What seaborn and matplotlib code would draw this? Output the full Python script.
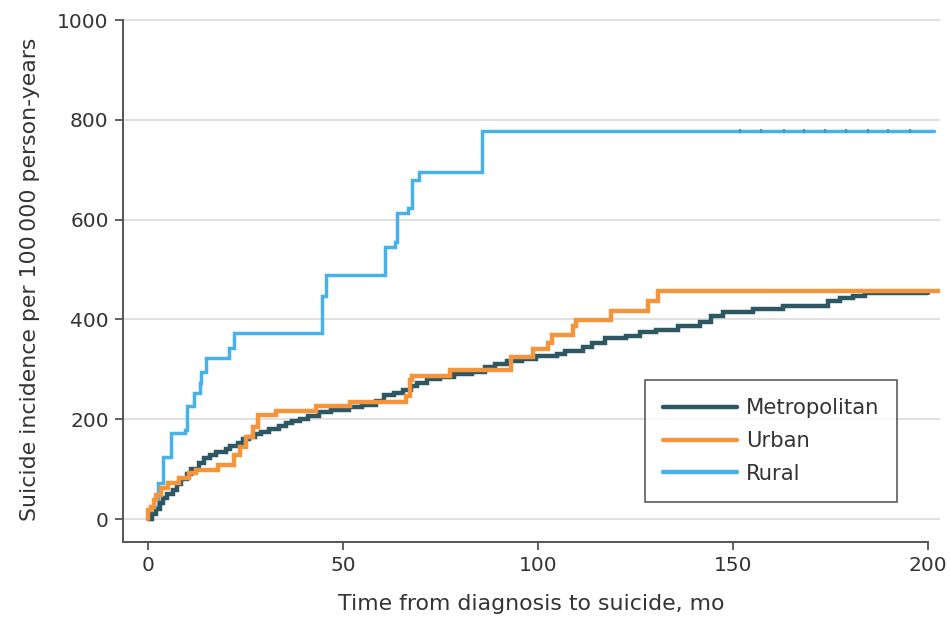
import numpy as np
import pandas as pd
import matplotlib
matplotlib.use("Agg")
import matplotlib.pyplot as plt
from matplotlib.lines import Line2D
import seaborn as sns

# ---- data ----
categories = ["Metropolitan", "Urban", "Rural"]

metro_t = [0, 1.0, 2.0, 3.0, 4.0, 5.0, 6.5, 7.5, 8.5, 10.0, 11.0, 13.0, 14.5, 16.0, 17.5,
           20.0, 21.0, 23.0, 24.5, 26.0, 27.5, 29.0, 31.0, 33.5, 35.5, 37.0, 39.0, 41.0,
           44.0, 47.0, 51.5, 55.0, 58.5, 60.5, 63.0, 65.5, 67.5, 69.0, 71.5, 75.0, 78.5,
           83.0, 86.5, 89.0, 92.0, 96.0, 99.5, 105.0, 107.0, 111.5, 113.8, 117.2, 122.7,
           126.2, 130.4, 136.0, 141.5, 144.5, 147.5, 155.2, 162.9, 174.4, 177.4, 180.9,
           183.8, 200.0]
metro_v = [0, 10, 20, 32, 42, 50, 58, 70, 80, 90, 100, 112, 122, 128, 135,
           140, 146, 152, 160, 165, 170, 175, 180, 186, 192, 196, 200, 206,
           214, 218, 224, 228, 236, 248, 253, 258, 266, 273, 280, 284, 290,
           295, 305, 310, 316, 320, 326, 330, 336, 345, 353, 362, 367,
           374, 379, 387, 394, 406, 414, 420, 426, 436, 442, 447,
           453, 453]

urban_t = [0, 0.1, 0.8, 1.5, 2.2, 3.4, 5.1, 8.1, 10.6, 12.3, 17.9, 22.2, 23.5, 25.2,
           26.9, 28.2, 32.9, 43.1, 51.8, 66.3, 67.2, 67.8, 77.4, 93.2, 98.8, 102.7,
           103.5, 109.0, 109.8, 118.8, 128.3, 130.8, 203.0]
urban_v = [0, 18, 25, 38, 48, 62, 73, 82, 92, 98, 108, 128, 145, 165,
           185, 209, 217, 227, 235, 247, 279, 287, 299, 324, 340, 352,
           369, 386, 399, 417, 436, 457, 457]

rural_t = [0, 0.2, 0.8, 2.5, 3.9, 5.8, 9.5, 9.9, 11.8, 13.3, 13.7, 14.9, 20.8, 22.0,
           44.7, 45.7, 60.8, 63.4, 63.8, 66.8, 67.8, 69.5, 85.8, 201.5]
rural_v = [0, 15, 24, 73, 125, 172, 178, 227, 253, 273, 295, 323, 343, 373,
           446, 489, 545, 556, 613, 624, 680, 695, 777, 777]

rural_censor_t = [151.8, 157.3, 163.0, 168.3, 173.5, 178.9, 184.6, 189.7, 195.3]

x_ticks = [0, 50, 100, 150, 200]
y_ticks = [0, 200, 400, 600, 800, 1000]

colors = {"Metropolitan": "#2E5764", "Urban": "#F5953B", "Rural": "#47B2EA"}
widths = {"Metropolitan": 3.2, "Urban": 3.2, "Rural": 2.5}

series = {
    "Metropolitan": (metro_t, metro_v),
    "Urban": (urban_t, urban_v),
    "Rural": (rural_t, rural_v),
}

# ---- plot ----
sns.set_style("ticks")
plt.rcParams["font.family"] = ["DejaVu Sans"]

fig = plt.figure(figsize=(9.5, 6.21), dpi=100)
ax = fig.add_axes([0.129, 0.1272, 0.860, 0.8446])

for name in ["Rural", "Metropolitan", "Urban"]:
    t, v = series[name]
    df = pd.DataFrame({"t": t, "v": v})
    sns.lineplot(data=df, x="t", y="v", estimator=None, sort=False,
                 drawstyle="steps-post", color=colors[name],
                 linewidth=widths[name], ax=ax, legend=False,
                 solid_joinstyle="miter")
    if name == "Rural":
        ax.plot(rural_censor_t, [rural_v[-1]] * len(rural_censor_t), "|",
                color="#3A9BD0", markersize=2.6, markeredgewidth=1.6, zorder=3)

ax.set_xlim(-6.5, 203)
ax.set_ylim(-46, 1005)
ax.set_xticks(x_ticks)
ax.set_yticks(y_ticks)
ax.spines["bottom"].set_bounds(-6.5, 200)
ax.spines["left"].set_bounds(-46, 1000)
for s in ["top", "right"]:
    ax.spines[s].set_visible(False)
for s in ["left", "bottom"]:
    ax.spines[s].set_color("#555555")
    ax.spines[s].set_linewidth(1.4)

ax.yaxis.grid(True, color="#dedede", linewidth=1.3)
ax.xaxis.grid(False)
ax.set_axisbelow(True)

ax.tick_params(direction="out", length=6, width=1.3, color="#555555",
               labelsize=14.5, labelcolor="#333333", pad=4)

ax.set_xlabel("Time from diagnosis to suicide, mo", fontsize=15.8,
              color="#333333", labelpad=14)
ax.set_ylabel("Suicide incidence per 100\u2009000 person-years", fontsize=15.8,
              color="#333333", labelpad=12)

handles = [Line2D([0], [0], color=colors[c], linewidth=3.2) for c in categories]
leg = ax.legend(handles, categories, loc="upper left", bbox_to_anchor=(0.640, 0.308),
                frameon=True, fancybox=False, edgecolor="#333333", fontsize=15.2,
                handlelength=3.5, handletextpad=0.4, borderpad=0.85,
                labelspacing=0.6, borderaxespad=0)
leg.get_frame().set_linewidth(1.2)
for txt in leg.get_texts():
    txt.set_color("#333333")

fig.savefig("out.png", dpi=100)
